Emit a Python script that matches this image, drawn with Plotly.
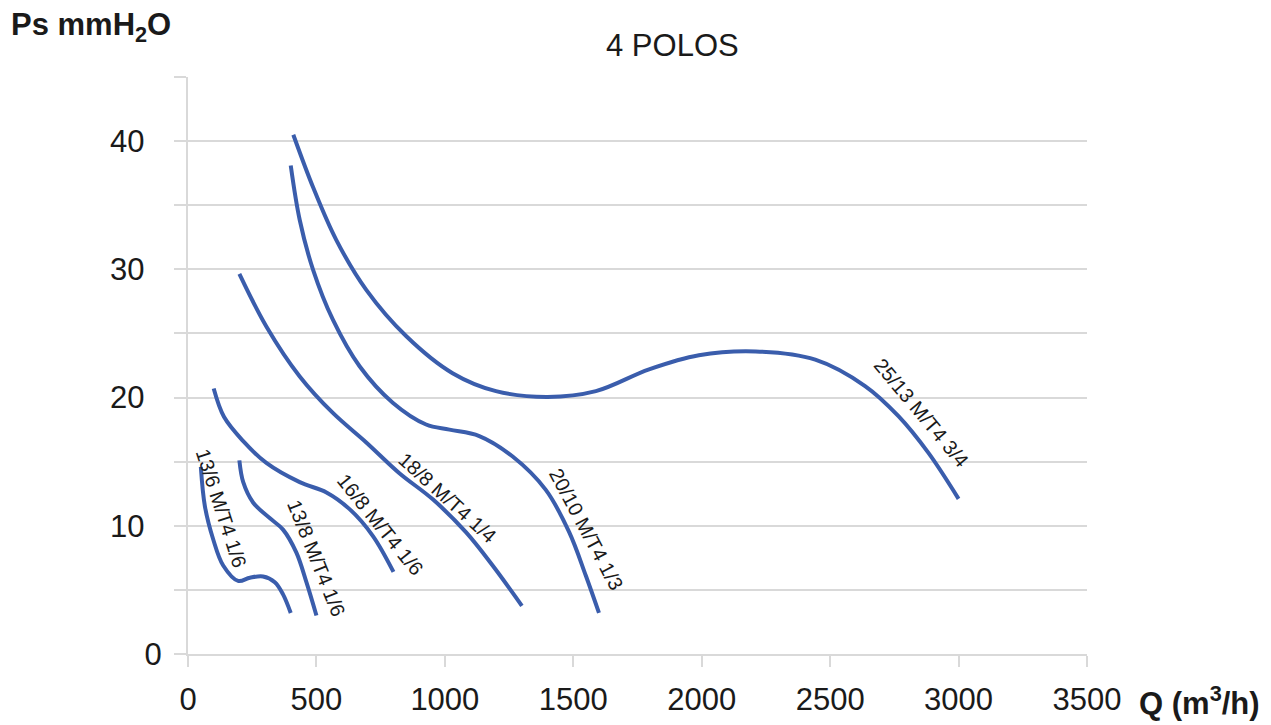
import plotly.graph_objects as go

# ---- data (Q in m3/h, Ps in mmH2O) ----
q_13_6 = [50, 66, 98, 137, 195, 241, 292, 338, 370, 400]
ps_13_6 = [14.6, 11.5, 8.95, 6.9, 5.7, 5.95, 6.05, 5.6, 4.65, 3.2]

q_13_8 = [200, 215, 254, 318, 370, 422, 461, 500]
ps_13_8 = [15.1, 13.4, 11.8, 10.6, 9.7, 7.9, 5.6, 3.0]

q_16_8 = [100, 140, 215, 305, 435, 539, 629, 720, 800]
ps_16_8 = [20.7, 18.5, 16.6, 14.9, 13.4, 12.6, 11.3, 9.2, 6.4]

q_18_8 = [200, 305, 435, 564, 694, 823, 953, 1082, 1186, 1300]
ps_18_8 = [29.65, 25.55, 21.65, 18.8, 16.5, 14.1, 12.06, 9.5, 6.9, 3.76]

q_20_10 = [400, 435, 487, 564, 668, 797, 927, 1018, 1134, 1264, 1393, 1484, 1549, 1600]
ps_20_10 = [38.1, 33.85, 29.96, 26.07, 22.44, 19.6, 17.9, 17.5, 17.0, 15.4, 12.8, 9.5, 6.1, 3.2]

q_25_13 = [410, 487, 577, 694, 849, 1030, 1199, 1400, 1588, 1795, 1989, 2210, 2442, 2636, 2766, 2882, 3000]
ps_25_13 = [40.5, 36.4, 32.3, 28.4, 24.8, 21.9, 20.5, 20.05, 20.5, 22.2, 23.3, 23.6, 22.96, 20.9, 18.55, 15.7, 12.1]

curve_names = ["13/6 M/T4 1/6", "13/8 M/T4 1/6", "16/8 M/T4 1/6",
               "18/8 M/T4 1/4", "20/10 M/T4 1/3", "25/13 M/T4 3/4"]
curve_q = [q_13_6, q_13_8, q_16_8, q_18_8, q_20_10, q_25_13]
curve_ps = [ps_13_6, ps_13_8, ps_16_8, ps_18_8, ps_20_10, ps_25_13]

# curve label anchor points and angles
label_q = [130, 500, 751, 1012, 1553, 2856]
label_ps = [11.4, 7.5, 10.1, 12.2, 9.7, 18.8]
label_angle = [72, 68, 51, 42, 62, 50]

x_ticks = [0, 500, 1000, 1500, 2000, 2500, 3000, 3500]
y_ticks = [0, 10, 20, 30, 40]
y_tick_text = ["0", "10\u00a0\u00a0", "20\u00a0\u00a0", "30\u00a0\u00a0", "40\u00a0\u00a0"]
y_minor_ticks = [5, 15, 25, 35, 45]

title_text = "4 POLOS"
y_title = "<b>Ps mmH<sub>2</sub>O</b>"
x_title = "<b>Q (m<sup>3</sup>/h)</b>"

LINE = "#3A5DAC"
GRID = "#D9D9D9"
TXT = "#1a1a1a"
FONT = "Liberation Sans, Arial, sans-serif"

OFF = 8  # page body margin
W, H = 1271 - OFF, 725 - OFF
# plot area on screen: x 188..1087, y 77..654
ml, mt = 188 - OFF, 77 - OFF
pw, ph = 1087 - 188, 654 - 77
mr, mb = W - ml - pw, H - mt - ph


def px_to_paper(px, py):
    return (px - OFF - ml) / pw, (H - mb - (py - OFF)) / ph


fig = go.Figure()
for name, q, ps in zip(curve_names, curve_q, curve_ps):
    fig.add_trace(go.Scatter(x=q, y=ps, mode="lines", name=name,
                             line=dict(color=LINE, width=4, shape="spline", smoothing=1.0),
                             hoverinfo="x+y+name"))

for name, lq, lp, ang in zip(curve_names, label_q, label_ps, label_angle):
    fig.add_annotation(x=lq, y=lp, xref="x", yref="y", text=name, showarrow=False,
                       textangle=ang, font=dict(size=20, color=TXT, family=FONT),
                       xanchor="center", yanchor="middle")

tx, ty = px_to_paper(672, 45)
ax, ay = px_to_paper(91, 27)
bx, by = px_to_paper(1199, 701)
fig.add_annotation(x=tx, y=ty, xref="paper", yref="paper", text=title_text,
                   showarrow=False, xanchor="center", yanchor="middle",
                   font=dict(size=31, color=TXT, family=FONT))
fig.add_annotation(x=ax, y=ay, xref="paper", yref="paper", text=y_title,
                   showarrow=False, xanchor="center", yanchor="middle",
                   font=dict(size=31, color=TXT, family=FONT))
fig.add_annotation(x=bx, y=by, xref="paper", yref="paper", text=x_title,
                   showarrow=False, xanchor="center", yanchor="middle",
                   font=dict(size=31, color=TXT, family=FONT))

fig.update_layout(
    width=W, height=H,
    margin=dict(l=ml, r=mr, t=mt, b=mb, pad=0, autoexpand=False),
    paper_bgcolor="white", plot_bgcolor="white",
    showlegend=False,
    font=dict(family=FONT, color=TXT),
    xaxis=dict(range=[0, 3500], tickvals=x_ticks, showgrid=False, automargin=False,
               showline=True, linecolor=GRID, linewidth=2,
               ticks="outside", ticklen=11, tickwidth=2, tickcolor=GRID,
               tickfont=dict(size=31, family=FONT, color=TXT),
               ticklabelstandoff=6, zeroline=False, fixedrange=True),
    yaxis=dict(range=[0, 45], tickvals=y_ticks, ticktext=y_tick_text, automargin=False,
               showgrid=True, gridcolor=GRID, gridwidth=2,
               showline=True, linecolor=GRID, linewidth=2,
               ticks="outside", ticklen=12, tickwidth=2, tickcolor=GRID,
               tickfont=dict(size=31, family=FONT, color=TXT),
               ticklabelstandoff=6, zeroline=False, fixedrange=True,
               minor=dict(tickvals=y_minor_ticks, showgrid=True, gridcolor=GRID,
                          gridwidth=2, ticks="outside", ticklen=12, tickwidth=2,
                          tickcolor=GRID)),
)

fig.write_html("out.html")
